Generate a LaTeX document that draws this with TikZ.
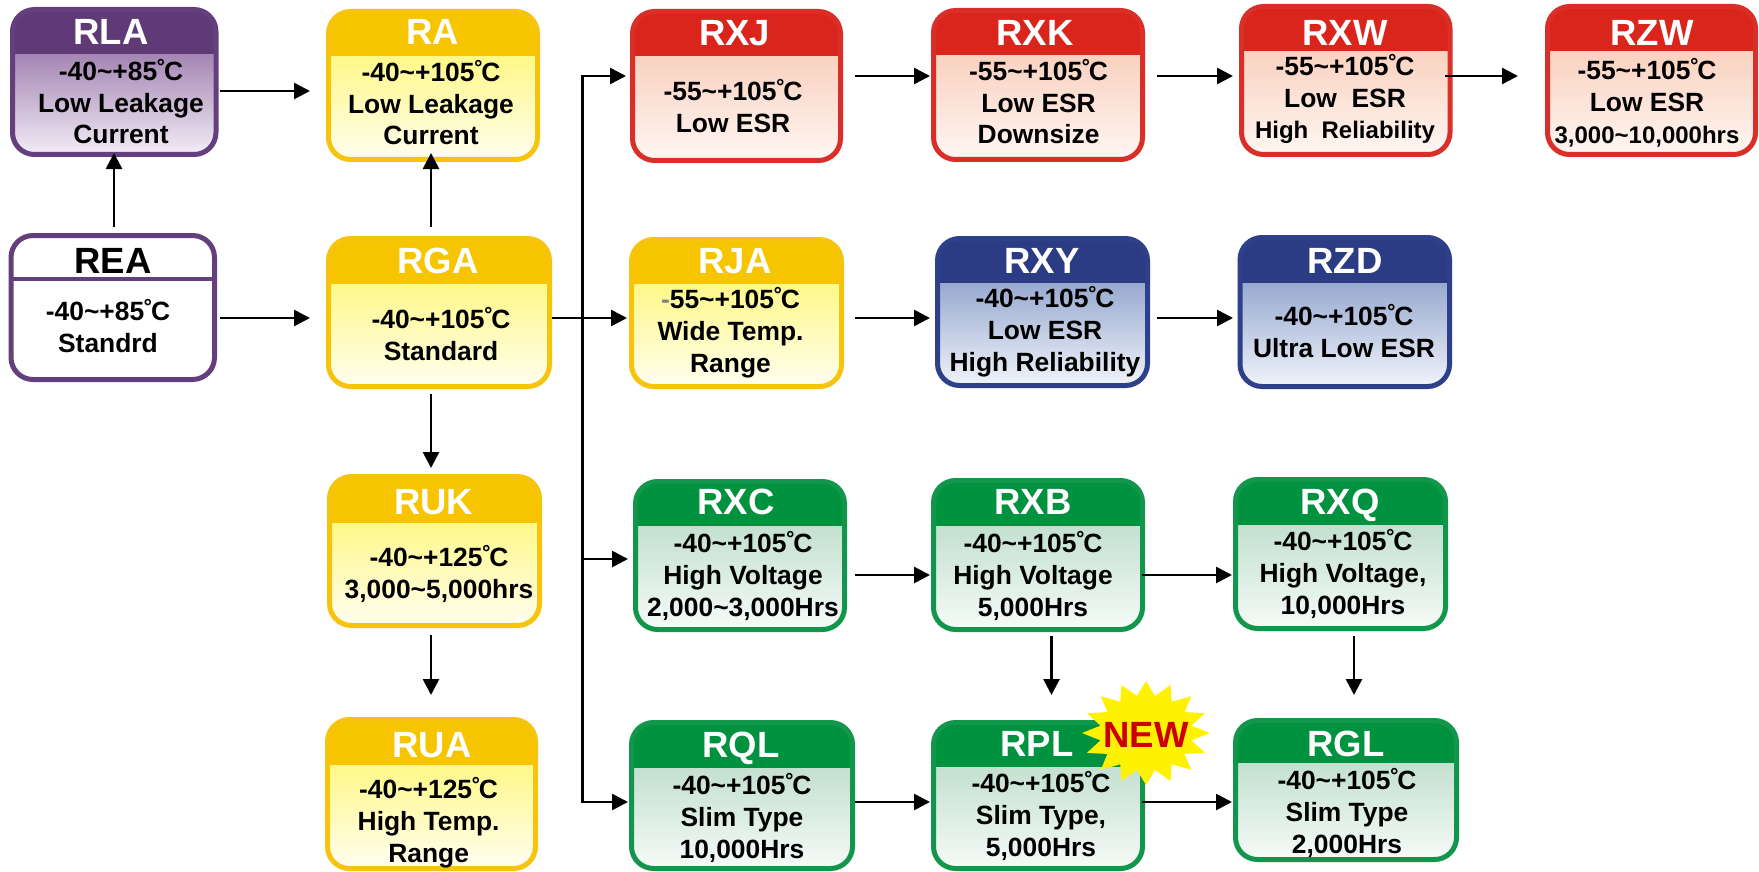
\documentclass[tikz,border=0pt]{standalone}
\usepackage{fontspec}
\setmainfont{Liberation Sans}
\usetikzlibrary{arrows.meta,shapes.geometric}
\definecolor{hdrpur}{HTML}{5F3A76}\definecolor{brdpur}{HTML}{643F7D}\definecolor{toppur}{HTML}{A586B4}\definecolor{botpur}{HTML}{F3EDF6}
\definecolor{hdrgold}{HTML}{F7C400}\definecolor{brdgold}{HTML}{F6C40C}\definecolor{topgold}{HTML}{FFF889}\definecolor{botgold}{HTML}{FFFEF0}
\definecolor{hdrred}{HTML}{DA251C}\definecolor{brdred}{HTML}{D92F28}\definecolor{topred}{HTML}{F9D2C0}\definecolor{botred}{HTML}{FFF6F3}
\definecolor{hdrblue}{HTML}{2C3C84}\definecolor{brdblue}{HTML}{2D4089}\definecolor{topblue}{HTML}{98AAD0}\definecolor{botblue}{HTML}{F0F3FA}
\definecolor{hdrgreen}{HTML}{00923F}\definecolor{brdgreen}{HTML}{12964C}\definecolor{topgreen}{HTML}{C3E0D0}\definecolor{botgreen}{HTML}{F6FBF8}
\definecolor{hdrwhite}{HTML}{FFFFFF}\definecolor{brdwhite}{HTML}{643F7D}\definecolor{topwhite}{HTML}{FFFFFF}\definecolor{botwhite}{HTML}{FFFFFF}
\definecolor{newred}{HTML}{CC0000}
\newcommand{\tld}{\textasciitilde}
\newcommand{\dgC}{˚\kern-2pt C}
\newcommand{\smtxt}{\fontsize{24}{31.7}\selectfont}
\tikzset{
  boxshape/.style={rounded corners=22pt,line width=5pt,inner sep=0pt},
  titletxt/.style={anchor=base,inner sep=0pt,font=\fontsize{36.5}{40}\selectfont\bfseries,text=white},
  bodytxt/.style={anchor=base,inner sep=0pt,align=center,font=\fontsize{26.4}{31.7}\selectfont\bfseries,text=black},
  conn/.style={draw=black,line width=2.7pt,-{Triangle[length=16pt,width=16pt]}},
}
% \bx{name}{x1}{x2}{y1}{y2}{header bottom}{palette}
\newcommand{\bx}[7]{%
  \pgfmathsetmacro{\bw}{#3-#2-5}%
  \pgfmathsetmacro{\bh}{#5-#4-5}%
  \pgfmathsetmacro{\bH}{#6-#4-2.5}%
  \node[boxshape,draw=brd#7,minimum width=\bw pt,minimum height=\bh pt,
    path picture={
      \fill[sharp corners,hdr#7] (path picture bounding box.north west) rectangle ([yshift=-\bH pt]path picture bounding box.north east);
      \shade[sharp corners,top color=top#7,bottom color=bot#7,shading angle=0] ([yshift=-\bH pt]path picture bounding box.north west) rectangle (path picture bounding box.south east);
    }] (#1) at ({(#2+#3)/2},{(#4+#5)/2}) {};%
}
\newcommand{\ttl}[3]{\node[titletxt] (#1-t) at (#2,#3) {#1};}
% the y given is the baseline of the last line
\newcommand{\bdy}[4]{\node[bodytxt] (#1-b) at (#2,#3) {#4};}
\begin{document}
\begin{tikzpicture}[x=1pt,y=-1pt]
\useasboundingbox (0,0) rectangle (1759,872);
\fill[white] (0,0) rectangle (1759,872);
\bx{RLA}{10}{218.5}{7}{157}{55}{pur}
\bx{RA}{326}{540}{9}{162}{57}{gold}
\bx{RXJ}{630}{843}{9}{163}{57}{red}
\bx{RXK}{931}{1145}{8}{162}{56}{red}
\bx{RXW}{1239}{1452.5}{4}{157}{52}{red}
\bx{RZW}{1545}{1758}{4}{157}{52}{red}
\bx{REA}{8.5}{217}{233}{382}{279}{white}
\bx{RGA}{326}{552}{236}{389}{284}{gold}
\bx{RJA}{629}{844}{237}{389}{284}{gold}
\bx{RXY}{935}{1150}{236}{388}{283}{blue}
\bx{RZD}{1237.5}{1452}{235}{389}{283}{blue}
\bx{RUK}{327}{542}{474}{628}{523}{gold}
\bx{RXC}{633}{847}{479}{632}{526}{green}
\bx{RXB}{931}{1145}{478}{632}{526}{green}
\bx{RXQ}{1233}{1448}{477}{631}{525}{green}
\bx{RUA}{325}{538}{717}{871}{765}{gold}
\bx{RQL}{629}{855}{720}{871}{768}{green}
\bx{RPL}{931}{1145}{720}{871}{767}{green}
\bx{RGL}{1233}{1459}{718}{862}{763}{green}
\draw[line width=4.5pt,draw=brdwhite] (REA.west |- 0,279) -- (REA.east |- 0,279);
% titles
\ttl{RLA}{111}{45}\ttl{RA}{433}{45}\ttl{RXJ}{734.5}{46}\ttl{RXK}{1035}{46}\ttl{RXW}{1345}{46}\ttl{RZW}{1652}{46}
\node[titletxt,text=black] (REA-t) at (113,273) {REA};
\ttl{RGA}{438}{273}\ttl{RJA}{735}{273}\ttl{RXY}{1042}{273}\ttl{RZD}{1345}{273}
\ttl{RUK}{433.6}{514}\ttl{RXC}{736}{514}\ttl{RXB}{1033}{514}\ttl{RXQ}{1340}{514}
\ttl{RUA}{432}{757}\ttl{RQL}{741}{757}\ttl{RPL}{1037}{756}\ttl{RGL}{1346}{756}
% bodies
\bdy{RLA}{121}{144}{-40\tld+85\dgC\\Low Leakage\\Current}
\bdy{RA}{431}{145}{-40\tld+105\dgC\\Low Leakage\\Current}
\bdy{RXJ}{733}{132}{-55\tld+105\dgC\\Low ESR}
\bdy{RXK}{1038.6}{144}{-55\tld+105\dgC\\Low ESR\\Downsize}
\bdy{RXW}{1345}{139}{-55\tld+105\dgC\\Low\ \ ESR\\{\smtxt High\ \ Reliability}}
\bdy{RZW}{1647}{143}{-55\tld+105\dgC\\Low ESR\\{\smtxt 3,000\tld10,000hrs}}
\bdy{REA}{108}{352}{-40\tld+85\dgC\\Standrd}
\bdy{RGA}{441}{360}{-40\tld+105\dgC\\Standard}
\bdy{RJA}{730.5}{372}{{\color{gray}-}55\tld+105\dgC\\Wide Temp.\\Range}
\bdy{RXY}{1045}{371}{-40\tld+105\dgC\\Low ESR\\High Reliability}
\bdy{RZD}{1344}{357}{-40\tld+105\dgC\\Ultra Low ESR}
\bdy{RUK}{439}{598}{-40\tld+125\dgC\\3,000\tld5,000hrs}
\bdy{RXC}{743}{616}{-40\tld+105\dgC\\High Voltage\\2,000\tld3,000Hrs}
\bdy{RXB}{1033}{616}{-40\tld+105\dgC\\High Voltage\\5,000Hrs}
\bdy{RXQ}{1343}{614}{-40\tld+105\dgC\\High Voltage,\\10,000Hrs}
\bdy{RUA}{428.6}{862}{-40\tld+125\dgC\\High Temp.\\Range}
\bdy{RQL}{742}{858}{-40\tld+105\dgC\\Slim Type\\10,000Hrs}
\bdy{RPL}{1041}{856}{-40\tld+105\dgC\\Slim Type,\\5,000Hrs}
\bdy{RGL}{1347}{853}{-40\tld+105\dgC\\Slim Type\\2,000Hrs}
% connectors
\draw[conn,shorten <=1.5pt,shorten >=16pt] (RLA.east |- 0,91) -- (RA.west |- 0,91);
\draw[conn,shorten <=3pt,shorten >=16pt] (REA.east |- 0,318) -- (RGA.west |- 0,318);
\draw[conn,shorten <=6pt,shorten >=-4pt] (REA.north -| 114,0) -- (RLA.south -| 114,0);
\draw[conn,shorten <=9pt,shorten >=-9pt] (RGA.north -| 431,0) -- (RA.south -| 431,0);
\draw[conn,shorten <=5pt,shorten >=6pt] (RGA.south -| 431,0) -- (RUK.north -| 431,0);
\draw[conn,shorten <=7pt,shorten >=22pt] (RUK.south -| 431,0) -- (RUA.north -| 431,0);
\draw[conn,shorten <=12pt,shorten >=1pt] (RXJ.east |- 0,76) -- (RXK.west |- 0,76);
\draw[conn,shorten <=11.5pt,shorten >=6pt] (RXK.east |- 0,76) -- (RXW.west |- 0,76);
\draw[conn,shorten <=-7.5pt,shorten >=27pt] (RXW.east |- 0,76) -- (RZW.west |- 0,76);
\draw[conn,shorten >=2pt] (RGA.east |- 0,318) -- (RJA.west |- 0,318);
\draw[conn,shorten <=11pt,shorten >=5pt] (RJA.east |- 0,318) -- (RXY.west |- 0,318);
\draw[conn,shorten <=7pt,shorten >=4.5pt] (RXY.east |- 0,318) -- (RZD.west |- 0,318);
\draw[conn,shorten <=8pt,shorten >=1pt] (RXC.east |- 0,575) -- (RXB.west |- 0,575);
\draw[conn,shorten <=-3pt,shorten >=1pt] (RXB.east |- 0,575) -- (RXQ.west |- 0,575);
\draw[conn,shorten >=1pt] (RQL.east |- 0,802) -- (RPL.west |- 0,802);
\draw[conn,shorten <=-3pt,shorten >=1pt] (RPL.east |- 0,802) -- (RGL.west |- 0,802);
\draw[conn,shorten <=4pt,shorten >=25pt] (RXB.south -| 1051.5,0) -- (RPL.north -| 1051.5,0);
\draw[conn,shorten <=5pt,shorten >=23pt] (RXQ.south -| 1354,0) -- (RGL.north -| 1354,0);
\coordinate (jt) at (582.5,76);
\coordinate (jm) at (582.5,559);
\coordinate (jb) at (582.5,802);
\draw[conn,{Triangle[length=16pt,width=16pt]}-{Triangle[length=16pt,width=16pt]},shorten <=4pt,shorten >=1pt] (RXJ.west |- jt) -- (jt) -- (jb) -- (RQL.west |- jb);
\draw[conn,shorten >=5pt] (jm) -- (RXC.west |- jm);
% burst
\node[star,star points=16,star point ratio=1.38,minimum size=104pt,inner sep=0pt,fill=yellow,transform shape,xscale=1.23] (burst) at (1146,733) {};
\node[anchor=base,inner sep=0pt,font=\fontsize{36.5}{40}\selectfont\bfseries,text=newred] (newtag) at (1146,747) {NEW};
\end{tikzpicture}
\end{document}
